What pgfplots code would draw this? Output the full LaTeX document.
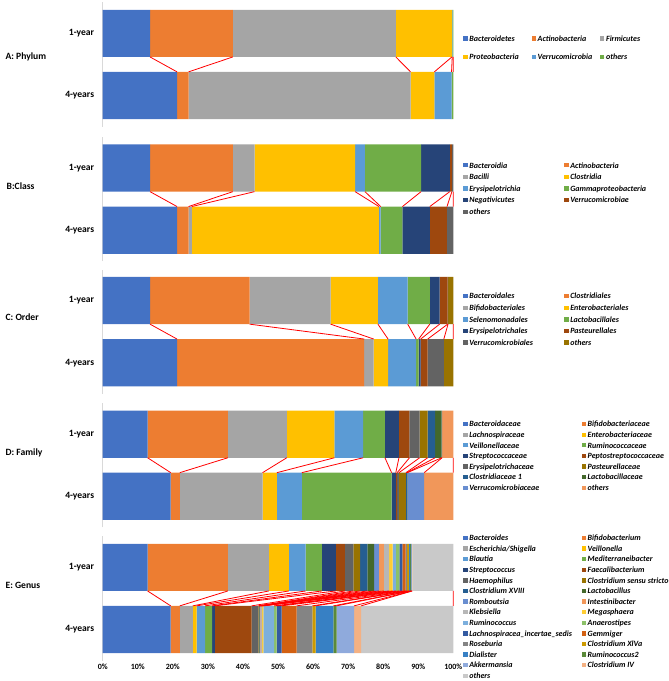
\documentclass[border=0pt]{standalone}
\usepackage{pgfplots}
\pgfplotsset{compat=1.18}
\usepackage{fontspec}
\setmainfont{Carlito}

\definecolor{c1}{HTML}{4472C4}
\definecolor{c2}{HTML}{ED7D31}
\definecolor{c3}{HTML}{A5A5A5}
\definecolor{c4}{HTML}{FFC000}
\definecolor{c5}{HTML}{5B9BD5}
\definecolor{c6}{HTML}{70AD47}
\definecolor{c7}{HTML}{264478}
\definecolor{c8}{HTML}{9E480E}
\definecolor{c9}{HTML}{636363}
\definecolor{c10}{HTML}{997300}
\definecolor{c11}{HTML}{255E91}
\definecolor{c12}{HTML}{43682B}
\definecolor{c13}{HTML}{698ED0}
\definecolor{c14}{HTML}{F1975A}
\definecolor{c15}{HTML}{B7B7B7}
\definecolor{c16}{HTML}{FFCD33}
\definecolor{c17}{HTML}{7CAFDD}
\definecolor{c18}{HTML}{8CC168}
\definecolor{c19}{HTML}{335AA1}
\definecolor{c20}{HTML}{D26012}
\definecolor{c21}{HTML}{848484}
\definecolor{c22}{HTML}{CC9A00}
\definecolor{c23}{HTML}{3780C4}
\definecolor{c24}{HTML}{5A8A39}
\definecolor{c25}{HTML}{8FAADC}
\definecolor{c26}{HTML}{F4B183}
\definecolor{c27}{HTML}{C9C9C9}
\definecolor{axgray}{HTML}{D9D9D9}

\pgfplotscreateplotcyclelist{xl}{
{fill=c1,draw=none},{fill=c2,draw=none},{fill=c3,draw=none},{fill=c4,draw=none},
{fill=c5,draw=none},{fill=c6,draw=none},{fill=c7,draw=none},{fill=c8,draw=none},
{fill=c9,draw=none},{fill=c10,draw=none},{fill=c11,draw=none},{fill=c12,draw=none},
{fill=c13,draw=none},{fill=c14,draw=none},{fill=c15,draw=none},{fill=c16,draw=none},
{fill=c17,draw=none},{fill=c18,draw=none},{fill=c19,draw=none},{fill=c20,draw=none},
{fill=c21,draw=none},{fill=c22,draw=none},{fill=c23,draw=none},{fill=c24,draw=none},
{fill=c25,draw=none},{fill=c26,draw=none},{fill=c27,draw=none}}

% data: value 1-year / value 4-years, one pair per series (percent)
\def\dataA{13.5/21.2, 23.6/3.3, 46.5/63.3, 16.0/6.8, 0.1/4.9, 0.3/0.5}
\def\dataB{13.5/21.2, 23.6/3.3, 6.2/0.9, 28.7/53.4, 2.8/0.5, 16.0/6.2, 8.2/7.8, 0.6/4.9, 0.4/1.8}
\def\dataC{13.5/21.2, 28.4/53.4, 23.1/2.7, 13.5/4.1, 8.5/8.0, 6.3/0.7, 2.8/0.6, 2.3/2.0, 0.1/4.6, 1.5/2.7}
\def\dataD{12.8/19.4, 22.9/2.6, 16.8/23.6, 13.6/4.1, 8.2/7.1, 6.2/25.6, 4.0/1.2, 3.0/0.4, 2.9/0.5, 2.3/2.0, 2.1/0.3, 1.9/0.1, 0.1/4.8, 3.2/8.3}
\def\dataE{12.8/19.4, 22.9/2.6, 11.7/3.7, 5.7/1.1, 4.8/2.4, 4.6/2.0, 4.0/0.8, 2.6/10.5, 2.4/1.9, 1.9/0.2, 2.1/0.1, 1.9/0.1, 1.4/0.2, 1.4/0.2, 1.5/0.3, 1.0/0.3, 0.9/3.1, 1.0/0.7, 0.9/1.4, 0.9/4.3, 0.4/4.5, 0.5/0.9, 0.4/5.1, 0.3/0.9, 0.2/5.0, 0.1/2.0, 11.7/26.3}

\def\getpair#1/#2\relax{\def\va{#1}\def\vb{#2}}
\newcommand\drawbars[1]{\expandafter\drawbarsi\expandafter{#1}}
\newcommand\drawbarsi[1]{%
  \pgfplotsforeachungrouped \p in {#1}{%
    \expandafter\getpair\p\relax
    \edef\tmp{\noexpand\addplot coordinates {(\va,1) (\vb,0)};}\tmp
  }}
\newcommand\drawlines[1]{\expandafter\drawlinesi\expandafter{#1}}
\newcommand\drawlinesi[1]{%
  \def\ca{0}\def\cb{0}%
  \pgfplotsforeachungrouped \p in {#1}{%
    \expandafter\getpair\p\relax
    \pgfmathsetmacro\ca{\ca+\va}\pgfmathsetmacro\cb{\cb+\vb}%
    \edef\tmp{\noexpand\addplot[color=red, line width=0.8pt] coordinates {(\ca,0.62) (\cb,0.38)};}\tmp
  }}

\newcommand\LA[1]{\makebox[62.4pt][l]{#1}}
\newcommand\LB[1]{\makebox[95pt][l]{#1}}
\newcommand\LD[1]{\makebox[112.4pt][l]{#1}}

\pgfplotsset{
  panel/.style={
    scale only axis, width=350.6pt, height=124.2pt,
    anchor=south west,
    xmin=0, xmax=100, ymin=-0.5, ymax=1.5,
  },
  barpanel/.style={
    panel,
    xbar stacked, bar width=0.76,
    cycle list name=xl,
    separate axis lines,
    axis x line*=bottom, axis y line*=left,
    x axis line style={draw=none},
    y axis line style={draw=axgray, line width=0.75pt, -},
    ytick={0,1}, yticklabels={4-years,1-year},
    xtick=\empty,
    major tick length=0pt,
    tick style={draw=none},
    yticklabel style={font=\bfseries\fontsize{9.6}{11}\selectfont, inner sep=0pt, xshift=-8.4pt},
    legend cell align=left,
    legend image code/.code={\fill[##1] (0pt,-1.4pt) rectangle (4.3pt,2.9pt); \path (0pt,0pt) -- (6pt,0pt);},
    legend style={draw=none, fill=none, inner sep=0pt, outer sep=0pt, anchor=north west,
      nodes={inner sep=0pt, text height=5.6pt, text depth=1.6pt, font=\bfseries\itshape\fontsize{8}{9}\selectfont},
      column sep=0pt},
  },
  linepanel/.style={panel, axis lines=none, clip=false, ticks=none},
}

\begin{document}
\begin{tikzpicture}
\useasboundingbox (0pt,0pt) rectangle (669pt,-681pt);

% ---------- A: Phylum
\begin{axis}[barpanel, at={(102.7pt,-126.5pt)},
  every axis y label/.style={at={(axis description cs:-0.287,0.56)}, anchor=west, font=\bfseries\fontsize{9.6}{11}\selectfont},
  ylabel={A: Phylum},
  legend columns=3,
  legend style={at={(1.0285,0.731)}, row sep=11pt}]
\drawbars{\dataA}
\legend{\LA{Bacteroidetes},\LA{Actinobacteria},\LA{Firmicutes},\LA{Proteobacteria},\LA{Verrucomicrobia},\LA{others}}
\end{axis}
\begin{axis}[linepanel, at={(102.7pt,-126.5pt)}]
\drawlines{\dataA}
\end{axis}

% ---------- B: Class
\begin{axis}[barpanel, at={(102.7pt,-261.2pt)},
  every axis y label/.style={at={(axis description cs:-0.284,0.608)}, anchor=west, font=\bfseries\fontsize{9.6}{11}\selectfont},
  ylabel={B:Class},
  legend columns=2,
  legend style={at={(1.0285,0.795)}, row sep=4.4pt}]
\drawbars{\dataB}
\legend{\LB{Bacteroidia},\LB{Actinobacteria},\LB{Bacilli},\LB{Clostridia},\LB{Erysipelotrichia},\LB{Gammaproteobacteria},\LB{Negativicutes},\LB{Verrucomicrobiae},\LB{others}}
\end{axis}
\begin{axis}[linepanel, at={(102.7pt,-261.2pt)}]
\drawlines{\dataB}
\end{axis}

% ---------- C: Order
\begin{axis}[barpanel, at={(102.7pt,-393.7pt)},
  every axis y label/.style={at={(axis description cs:-0.287,0.62)}, anchor=west, font=\bfseries\fontsize{9.6}{11}\selectfont},
  ylabel={C: Order},
  legend columns=2,
  legend style={at={(1.0285,0.808)}, row sep=4.4pt}]
\drawbars{\dataC}
\legend{\LB{Bacteroidales},\LB{Clostridiales},\LB{Bifidobacteriales},\LB{Enterobacteriales},\LB{Selenomonadales},\LB{Lactobacillales},\LB{Erysipelotrichales},\LB{Pasteurellales},\LB{Verrucomicrobiales},\LB{others}}
\end{axis}
\begin{axis}[linepanel, at={(102.7pt,-393.7pt)}]
\drawlines{\dataC}
\end{axis}

% ---------- D: Family
\begin{axis}[barpanel, at={(102.7pt,-527.3pt)},
  every axis y label/.style={at={(axis description cs:-0.287,0.598)}, anchor=west, font=\bfseries\fontsize{9.6}{11}\selectfont},
  ylabel={D: Family},
  legend columns=2,
  legend style={at={(1.0285,0.854)}, row sep=3.4pt}]
\drawbars{\dataD}
\legend{\LD{Bacteroidaceae},\LD{Bifidobacteriaceae},\LD{Lachnospiraceae},\LD{Enterobacteriaceae},\LD{Veillonellaceae},\LD{Ruminococcaceae},\LD{Streptococcaceae},\LD{Peptostreptococcaceae},\LD{Erysipelotrichaceae},\LD{Pasteurellaceae},\LD{Clostridiaceae 1},\LD{Lactobacillaceae},\LD{Verrucomicrobiaceae},\LD{others}}
\end{axis}
\begin{axis}[linepanel, at={(102.7pt,-527.3pt)}]
\drawlines{\dataD}
\end{axis}

% ---------- E: Genus
\begin{axis}[barpanel, at={(102.7pt,-660.5pt)},
  every axis y label/.style={at={(axis description cs:-0.287,0.608)}, anchor=west, font=\bfseries\fontsize{9.6}{11}\selectfont},
  ylabel={E: Genus},
  xtick={0,10,...,100},
  xticklabel={\pgfmathprintnumber{\tick}\%},
  /pgf/number format/assume math mode=true,
  xticklabel style={font=\bfseries\fontsize{8}{9}\selectfont, inner sep=0pt, yshift=-3.5pt},
  legend columns=2,
  legend style={at={(1.0285,1.009)}, row sep=3.4pt}]
\drawbars{\dataE}
\legend{\LD{Bacteroides},\LD{Bifidobacterium},\LD{Escherichia/Shigella},\LD{Veillonella},\LD{Blautia},\LD{Mediterraneibacter},\LD{Streptococcus},\LD{Faecalibacterium},\LD{Haemophilus},\LD{Clostridium sensu stricto},\LD{Clostridium XVIII},\LD{Lactobacillus},\LD{Romboutsia},\LD{Intestinibacter},\LD{Klebsiella},\LD{Megasphaera},\LD{Ruminococcus},\LD{Anaerostipes},\LD{Lachnospiracea\_incertae\_sedis},\LD{Gemmiger},\LD{Roseburia},\LD{Clostridium XlVa},\LD{Dialister},\LD{Ruminococcus2},\LD{Akkermansia},\LD{Clostridium IV},\LD{others}}
\end{axis}
\begin{axis}[linepanel, at={(102.7pt,-660.5pt)}]
\drawlines{\dataE}
\end{axis}
\end{tikzpicture}
\end{document}
